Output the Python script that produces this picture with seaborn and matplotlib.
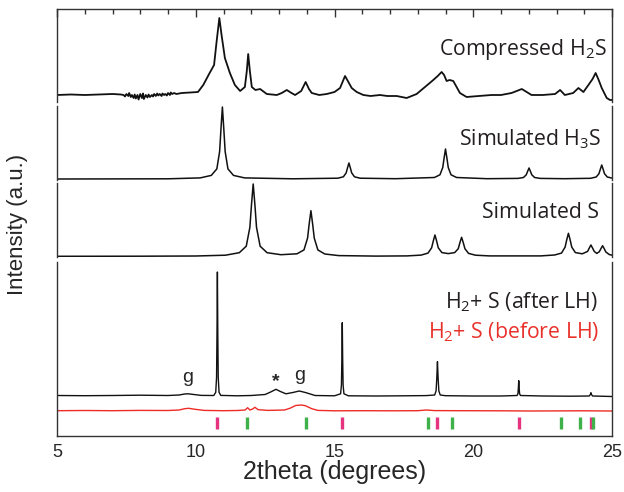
import matplotlib
matplotlib.use("Agg")
import matplotlib.pyplot as plt
from matplotlib.ticker import MultipleLocator
import pandas as pd
import seaborn as sns

# ---- data (2theta in degrees, intensity in a.u.) ----
compressed_h2s = [
    (5.0, 6), (5.5, 6.5), (6.0, 6), (6.5, 6.5), (7.0, 7), (7.3, 6.5),
    (7.4, 6), (7.45, 4.5), (7.5, 7), (7.57, 5), (7.6, 8), (7.66, 4), (7.7, 6),
    (7.76, 3), (7.8, 6.5), (7.84, 2.5), (7.9, 6), (7.94, 1.5), (8.0, 7),
    (8.06, 3), (8.1, 7.5), (8.13, 2), (8.2, 6), (8.26, 3.5), (8.3, 6.5),
    (8.35, 4), (8.42, 6), (8.46, 4.5), (8.5, 7), (8.56, 5), (8.61, 7.5),
    (8.65, 5.5), (8.7, 7), (8.77, 5), (8.8, 7.5), (8.86, 6), (8.9, 7),
    (8.96, 5.5), (9.0, 8), (9.07, 6), (9.1, 8.5), (9.15, 7), (9.22, 8),
    (9.3, 7), (9.5, 8), (9.8, 8.5), (10.08, 9),
    (10.27, 16), (10.5, 28), (10.66, 36), (10.75, 59), (10.85, 83),
    (10.93, 66), (11.05, 43), (11.23, 28), (11.41, 16), (11.6, 10),
    (11.77, 14), (11.84, 30), (11.89, 47), (11.95, 30), (12.02, 14),
    (12.15, 11), (12.32, 12), (12.56, 7), (12.92, 6), (13.1, 8), (13.28, 11),
    (13.45, 8), (13.58, 6), (13.8, 10), (13.96, 19), (14.08, 12), (14.18, 8),
    (14.45, 6), (14.72, 7), (15.0, 9), (15.2, 13), (15.38, 25), (15.5, 19),
    (15.62, 13), (15.8, 9), (16.04, 6), (16.3, 5), (16.64, 6), (16.9, 5),
    (17.24, 5), (17.6, 3), (17.96, 7), (18.26, 14), (18.56, 21), (18.72, 25),
    (18.86, 29), (18.95, 26), (19.04, 20), (19.15, 21), (19.28, 20),
    (19.4, 14), (19.52, 8), (19.76, 4), (20.2, 5), (20.66, 6), (21.0, 6),
    (21.38, 8), (21.75, 12), (22.1, 6), (22.5, 6), (22.95, 7), (23.13, 11),
    (23.3, 6), (23.6, 8), (23.79, 13), (23.97, 9), (24.15, 16), (24.3, 22),
    (24.41, 28), (24.52, 21), (24.63, 13), (24.81, 3), (24.93, 1), (25.0, 1),
]

simulated_h3s = [
    (5.0, 1.0), (9.0, 1.2), (10.16, 2.1), (10.56, 4.6), (10.76, 11.1),
    (10.86, 28.4), (10.91, 51.4), (10.96, 73), (11.01, 51.4), (11.06, 28.4),
    (11.16, 11.1), (11.36, 4.6), (11.76, 2.1), (13.5, 1.2), (15.12, 1.8),
    (15.32, 3.2), (15.42, 7.1), (15.47, 12.2), (15.52, 17), (15.57, 12.2),
    (15.62, 7.1), (15.72, 3.2), (15.92, 1.8), (17.2, 1.3), (18.6, 2.5),
    (18.8, 5.2), (18.9, 12.4), (18.95, 22), (19.0, 31), (19.05, 22),
    (19.1, 12.4), (19.2, 5.2), (19.4, 2.5), (20.5, 1.3), (21.61, 1.6),
    (21.81, 2.5), (21.91, 5.2), (21.96, 8.7), (22.01, 12), (22.06, 8.7),
    (22.11, 5.2), (22.21, 2.5), (22.41, 1.6), (23.3, 1.3), (24.23, 1.7),
    (24.43, 3), (24.53, 6.3), (24.58, 10.8), (24.63, 15), (24.68, 10.8),
    (24.73, 6.3), (24.83, 3), (25.0, 1.9),
]

simulated_s = [
    (5.0, 0.7), (8.0, 0.8), (10.0, 1.0), (11.07, 1.8), (11.57, 4.3),
    (11.82, 10.8), (11.95, 29.6), (12.01, 52.8), (12.07, 73), (12.13, 52.8),
    (12.19, 29.6), (12.32, 10.8), (12.57, 4.3), (13.07, 2.3), (13.65, 3.2),
    (13.9, 7.1), (14.03, 19), (14.09, 33.5), (14.15, 46.3), (14.21, 33.5),
    (14.27, 19), (14.4, 7.1), (14.65, 3), (15.15, 1.4), (16.5, 0.9),
    (17.62, 1.1), (18.12, 1.9), (18.37, 3.9), (18.5, 9.2), (18.56, 16),
    (18.62, 22), (18.68, 16), (18.74, 9.2), (18.87, 4.4), (19.1, 3.4),
    (19.33, 4.4), (19.46, 8.3), (19.52, 14.4), (19.58, 19.7), (19.64, 14.4),
    (19.7, 8.3), (19.83, 3.6), (20.08, 1.8), (20.58, 1.1), (22.43, 1.1),
    (22.93, 2.0), (23.18, 3.9), (23.31, 9.9), (23.37, 17.3), (23.43, 23.7),
    (23.49, 17.3), (23.55, 9.9), (23.68, 4.4), (23.93, 3.2), (24.12, 5.6),
    (24.18, 8.9), (24.24, 12), (24.3, 8.9), (24.36, 5.6), (24.45, 3.6),
    (24.54, 5.2), (24.6, 8.3), (24.66, 11.3), (24.72, 8.3), (24.78, 5),
    (24.9, 2.5), (25.0, 1.8),
]

after_lh = [
    (5.0, 40.5), (6.0, 40.3), (7.0, 40.5), (8.0, 40.8), (9.0, 40.5),
    (9.4, 41), (9.6, 42), (9.73, 42.2), (9.9, 41.6), (10.2, 40.6),
    (10.65, 40.5), (10.72, 43.7), (10.75, 58.6), (10.765, 102), (10.78, 164),
    (10.795, 102), (10.81, 58.6), (10.84, 43.7), (10.9, 40.6), (11.5, 40.2),
    (12.0, 40.5), (12.5, 41.5), (12.7, 44), (12.89, 46.7), (13.05, 44.5),
    (13.25, 42.2), (13.5, 43.5), (13.73, 45), (13.95, 43.5), (14.3, 40.5),
    (15.0, 40.2), (15.22, 42.2), (15.25, 51), (15.265, 76.7), (15.28, 113.3),
    (15.295, 76.7), (15.31, 51), (15.34, 42.2), (15.5, 40.2), (16.5, 40),
    (17.5, 40.2), (18.3, 40.4), (18.61, 41), (18.66, 45.1), (18.685, 57.2),
    (18.71, 74.3), (18.735, 57.2), (18.76, 45.1), (18.81, 41), (19.0, 40.3),
    (20.0, 40), (21.0, 40), (21.58, 40.5), (21.61, 42.3), (21.625, 47.7),
    (21.64, 55.3), (21.655, 47.7), (21.67, 42.3), (21.7, 40.5), (22.5, 40),
    (23.5, 39.8), (24.18, 40), (24.22, 41.5), (24.24, 43.3), (24.26, 41.5),
    (24.3, 40), (25.0, 39.5),
]

before_lh = [
    (5.0, 25.3), (6.0, 25.5), (7.0, 25.3), (8.0, 25.6), (9.0, 25.5),
    (9.4, 26), (9.6, 27.3), (9.75, 27.7), (9.95, 26.8), (10.3, 25.6),
    (11.0, 25.3), (11.5, 25.5), (11.78, 26), (11.87, 28.3), (11.95, 26),
    (12.05, 27), (12.13, 28.7), (12.25, 26.3), (12.6, 25.6), (13.2, 26),
    (13.4, 27.8), (13.6, 30.5), (13.8, 31), (13.95, 30.3), (14.18, 27.3),
    (14.4, 25.6), (15.0, 25.2), (16.0, 25.3), (17.0, 25.2), (18.0, 25.3),
    (18.32, 26), (18.6, 25.4), (19.5, 25.3), (21.0, 25.2), (22.0, 25),
    (24.0, 25.2), (25.0, 25),
]

# reflection markers (H3S in pink, S in green)
h3s_ticks = [10.78, 15.26, 18.71, 21.65, 24.23]
s_ticks = [11.86, 13.97, 18.36, 19.22, 23.15, 23.85, 24.33]

panel_labels = ["Compressed H$_2$S", "Simulated H$_3$S", "Simulated S"]

# ---- figure ----
sns.set_style("white")
plt.rcParams["font.family"] = ["Liberation Sans", "DejaVu Sans"]
plt.rcParams["mathtext.fontset"] = "custom"
plt.rcParams["mathtext.rm"] = "Open Sans"
plt.rcParams["mathtext.it"] = "Open Sans:italic"

fig = plt.figure(figsize=(6.24, 4.92), dpi=100)
left, width = 57 / 624, 555 / 624
ax1 = fig.add_axes([left, 1 - 102 / 492, width, 93 / 492])
ax2 = fig.add_axes([left, 1 - 180 / 492, width, 74 / 492])
ax3 = fig.add_axes([left, 1 - 257 / 492, width, 74 / 492])
ax4 = fig.add_axes([left, 1 - 436 / 492, width, 174 / 492])
axes = [ax1, ax2, ax3, ax4]

def draw(ax, pts, color, lw=1.2):
    df = pd.DataFrame(pts, columns=["two_theta", "intensity"])
    sns.lineplot(data=df, x="two_theta", y="intensity", ax=ax, color=color,
                 linewidth=lw, estimator=None, sort=False)

draw(ax1, compressed_h2s, "#111111", 1.3)
draw(ax2, simulated_h3s, "#111111", 1.1)
draw(ax3, simulated_s, "#111111", 1.1)
draw(ax4, after_lh, "#111111", 1.0)
draw(ax4, before_lh, "#ee2b24", 1.0)

ax4.vlines(h3s_ticks, 6.7, 19.3, color="#e6337f", linewidth=2.4)
ax4.vlines(s_ticks, 6.7, 19.3, color="#3fb14a", linewidth=2.4)

ax1.set_ylim(-1, 92)
ax2.set_ylim(0, 74)
ax3.set_ylim(0, 74)
ax4.set_ylim(0, 174)

for ax in axes:
    ax.set_xlim(5, 25)
    ax.set_yticks([])
    ax.set_xlabel("")
    ax.set_ylabel("")
    for s in ax.spines.values():
        s.set_linewidth(1.0)
        s.set_color("#333333")
    ax.spines["top"].set_visible(ax is ax1)
    ax.spines["bottom"].set_visible(ax is ax4)
    ax.xaxis.set_major_locator(MultipleLocator(5))
    ax.xaxis.set_minor_locator(MultipleLocator(1))

ax1.tick_params(axis="x", which="both", direction="in", bottom=False, top=True,
                labelbottom=False, width=1, color="#333333")
ax1.tick_params(axis="x", which="major", length=6)
ax1.tick_params(axis="x", which="minor", length=3.5)
for ax in (ax2, ax3):
    ax.tick_params(axis="x", which="both", bottom=False, top=False, labelbottom=False)
ax4.tick_params(axis="x", which="both", direction="in", top=False, width=1,
                color="#333333")
ax4.tick_params(axis="x", which="major", length=7, labelsize=13, pad=6)
ax4.tick_params(axis="x", which="minor", length=4)

# panel annotations
ann = dict(ha="right", va="baseline", family="Open Sans", fontsize=15.3, color="#231f20")
ax1.text(24.8, 46, panel_labels[0], **ann)
ax2.text(24.63, 35, panel_labels[1], **ann)
ax3.text(24.53, 38.7, panel_labels[2], **ann)
ax4.text(24.5, 127.7, "H$_2$+ S (after LH)", **ann)
ax4.text(24.53, 97.7, "H$_2$+ S (before LH)", **dict(ann, color="#e8312a"))

ax4.text(9.72, 54, "g", ha="center", va="baseline", fontsize=14)
ax4.text(12.89, 54, "*", ha="center", va="center", fontsize=14, fontweight="bold")
ax4.text(13.73, 56, "g", ha="center", va="baseline", fontsize=14)

fig.text(18 / 624, 1 - 224 / 492, "Intensity (a.u.)", rotation=90,
         ha="center", va="center", fontsize=16)
fig.text(334.5 / 624, 1 - 472 / 492, "2theta (degrees)", ha="center",
         va="center", fontsize=18)

fig.savefig("out.png", dpi=100)
